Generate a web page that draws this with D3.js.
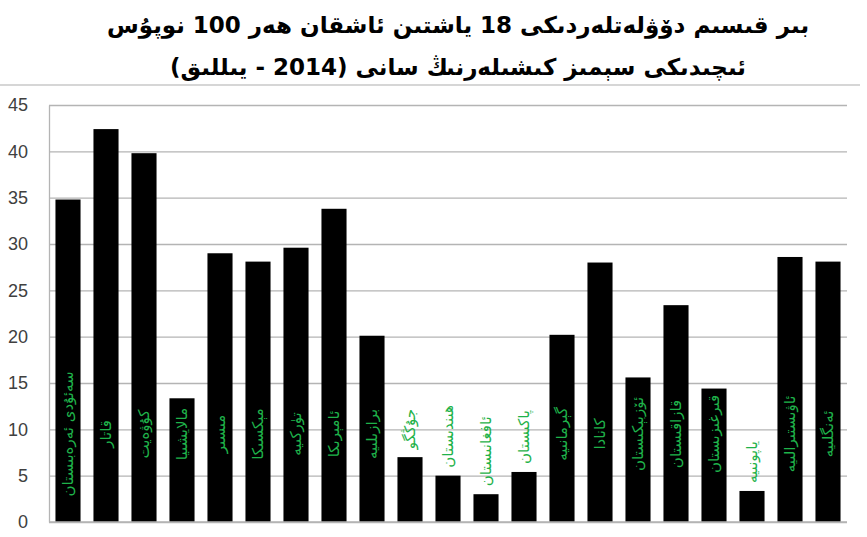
<!DOCTYPE html>
<html>
<head>
<meta charset="utf-8">
<script src="https://cdn.jsdelivr.net/npm/d3@7"></script>
<style>
  body { margin: 0; background: #fff; }
  svg { display: block; }
</style>
</head>
<body>
<svg width="867" height="537"></svg>
<script>
// **** chart data ****
var countries = ["سەئۇدى ئەرەبىستان", "قاتار", "كۇۋەيت", "مالايشىيا", "مىسىر", "مېكسىكا", "تۈركىيە",
    "ئامېرىكا", "برازىلىيە", "جۇڭگو", "ھىندىستان", "ئافغانىستان", "پاكىستان", "گېرمانىيە",
    "كانادا", "ئۆزبېكىستان", "قازاقىستان", "قىرغىزىستان", "ياپونىيە", "ئاۋىستىرالىيە", "ئەنگلىيە"];
var obesity = [34.8, 42.4, 39.8, 13.35, 29.0, 28.1, 29.6, 33.8, 20.1, 7.0, 5.0, 3.0, 5.4, 20.2,
    28.0, 15.6, 23.4, 14.4, 3.35, 28.6, 28.1];
var yTicks = [0, 5, 10, 15, 20, 25, 30, 35, 40, 45];
var titleLines = ["بىر قىسىم دۆۋلەتلەردىكى 18  ياشتىن ئاشقان ھەر 100 نوپۇس",
    "ئىچىدىكى سېمىز كىشىلەرنىڭ سانى (2014 - يىللىق)"];

var svg = d3.select("svg");

// **** scales ****
var xScale = d3.scaleBand()
    .domain(countries)
    .range([49, 847])
    .paddingInner(0.34)
    .paddingOuter(0.17);

var yScale = d3.scaleLinear()
    .domain([0, 45]).range([522, 105]);

// **** title ****
svg.selectAll(".title")
    .data(titleLines)
    .enter()
    .append("text")
    .attr("class", "title")
    .attr("x", 458)
    .attr("y", function(d, i) { return 33 + i * 42; })
    .attr("text-anchor", "middle")
    .style("font-family", "'DejaVu Sans', sans-serif")
    .style("font-size", "23px")
    .style("font-weight", "bold")
    .style("fill", "#000")
    .text(function(d) { return d; });

// separator under title
svg.append("line")
    .attr("x1", 0).attr("x2", 860)
    .attr("y1", 85).attr("y2", 85)
    .style("stroke", "#c8c8c8")
    .style("stroke-width", 1.5);

// **** gridlines ****
svg.append("g")
    .attr("class", "grid")
    .attr("transform", "translate(49,0)")
    .call(d3.axisLeft(yScale).tickValues(yTicks).tickSize(-798).tickFormat(""))
    .call(function(g) { g.select(".domain").remove(); })
    .selectAll("line")
    .style("stroke", "#b4b4b4")
    .style("stroke-width", 1.3);

// y axis line and labels
var yAxis = svg.append("g")
    .attr("class", "y axis")
    .attr("transform", "translate(49,0)")
    .call(d3.axisLeft(yScale).tickValues(yTicks).tickSize(0).tickPadding(21));
yAxis.select(".domain").style("stroke", "#b4b4b4").style("stroke-width", 1.3);
yAxis.selectAll("text")
    .style("font-family", "'Liberation Sans', sans-serif")
    .style("font-size", "18px")
    .style("fill", "#404040");

// **** bars ****
svg.selectAll(".bar")
    .data(countries)
    .enter()
    .append("rect")
    .attr("class", "bar")
    .attr("x", function(d) { return xScale(d); })
    .attr("width", xScale.bandwidth())
    .attr("y", function(d, i) { return yScale(obesity[i]); })
    .attr("height", function(d, i) { return yScale(0) - yScale(obesity[i]); })
    .style("fill", "#000");

// x axis line
svg.append("line")
    .attr("x1", 49).attr("x2", 847)
    .attr("y1", yScale(0)).attr("y2", yScale(0))
    .style("stroke", "#b4b4b4")
    .style("stroke-width", 1.3);

// **** vertical country labels ****
var labels = svg.selectAll(".label")
    .data(countries)
    .enter()
    .append("text")
    .attr("class", "label")
    .attr("text-anchor", "middle")
    .attr("dominant-baseline", "central")
    .style("font-family", "'DejaVu Sans', sans-serif")
    .style("font-size", "15px")
    .style("fill", "#1fb24a")
    .text(function(d) { return d; });

labels.attr("transform", function(d, i) {
    var cx = xScale(d) + xScale.bandwidth() / 2;
    var cy = yScale(9.5);
    if (obesity[i] < 8) {
        var len = this.getComputedTextLength();
        cy = yScale(obesity[i]) - 8 - len / 2;
    }
    return "translate(" + cx + "," + cy + ") rotate(-90)";
});
</script>
</body>
</html>
